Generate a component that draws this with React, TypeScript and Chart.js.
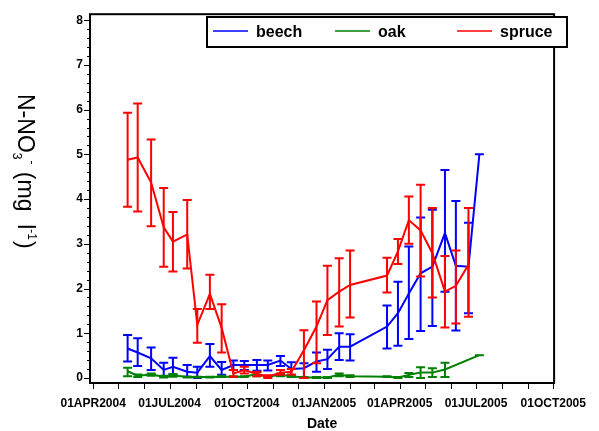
import React, { useEffect, useRef } from 'react';
import { Chart, registerables } from 'chart.js';

Chart.register(...registerables);

// ---------- data ----------
const sampleDates = [
  '2004-05-12', '2004-05-24', '2004-06-09', '2004-06-24', '2004-07-05', '2004-07-22',
  '2004-08-03', '2004-08-18', '2004-09-01', '2004-09-15', '2004-09-28', '2004-10-13',
  '2004-10-26', '2004-11-10', '2004-11-23', '2004-12-08', '2004-12-23', '2005-01-05',
  '2005-01-19', '2005-02-01', '2005-03-17', '2005-03-30', '2005-04-12', '2005-04-26',
  '2005-05-10', '2005-05-25', '2005-06-07', '2005-06-22', '2005-07-05',
];

const beech = [0.66, 0.57, 0.44, 0.18, 0.25, 0.14, 0.12, 0.49, 0.18, 0.29, 0.29, 0.29, 0.29, 0.39, 0.20, 0.22, 0.37, 0.42, 0.70, 0.70, 1.15, 1.45, 1.89, 2.34, 2.49, 3.24, 2.51, 2.49, 5.00];
const beechLow = [0.37, 0.27, 0.18, 0.03, 0.07, 0.03, 0.00, 0.25, 0.07, 0.18, 0.18, 0.16, 0.17, 0.27, 0.03, 0.01, 0.14, 0.20, 0.40, 0.39, 0.66, 0.72, 0.87, 1.05, 1.16, 1.93, 1.06, 1.45, 5.00];
const beechHigh = [0.96, 0.89, 0.68, 0.34, 0.45, 0.29, 0.25, 0.76, 0.36, 0.39, 0.38, 0.40, 0.39, 0.49, 0.35, 0.33, 0.57, 0.63, 1.00, 0.98, 1.62, 2.15, 2.94, 3.59, 3.76, 4.65, 3.96, 3.47, 5.00];

const oak = [0.15, 0.05, 0.08, 0.03, 0.06, 0.02, 0.02, 0.02, 0.03, 0.03, 0.03, 0.09, 0.03, 0.07, 0.04, 0.01, 0.01, 0.01, 0.07, 0.04, 0.03, 0.01, 0.07, 0.12, 0.12, 0.19, null, null, 0.51];
const oakLow = [0.04, 0.02, 0.05, 0.01, 0.03, 0.01, 0.01, 0.01, 0.02, 0.02, 0.02, 0.04, 0.02, 0.04, 0.02, 0.00, 0.00, 0.00, 0.04, 0.02, 0.02, 0.00, 0.02, 0.00, 0.02, 0.02, null, null, 0.51];
const oakHigh = [0.23, 0.08, 0.10, 0.05, 0.09, 0.03, 0.03, 0.03, 0.05, 0.04, 0.04, 0.13, 0.04, 0.10, 0.06, 0.02, 0.02, 0.02, 0.10, 0.06, 0.04, 0.02, 0.11, 0.24, 0.22, 0.34, null, null, 0.51];

const spruce = [4.88, 4.93, 4.37, 3.37, 3.05, 3.21, 1.19, 1.88, 1.12, 0.10, 0.18, 0.09, 0.03, 0.12, 0.14, 0.62, 1.15, 1.74, 1.93, 2.08, 2.29, 2.83, 3.53, 3.30, 2.79, 1.93, 2.06, 2.53, null];
const spruceLow = [3.83, 3.72, 3.39, 2.49, 2.38, 2.45, 0.79, 1.54, 0.57, 0.03, 0.10, 0.04, 0.00, 0.07, 0.08, 0.00, 0.33, 0.96, 1.15, 1.35, 1.91, 2.55, 3.00, 2.27, 1.80, 1.13, 1.22, 1.37, null];
const spruceHigh = [5.93, 6.14, 5.33, 4.25, 3.71, 3.98, 1.54, 2.31, 1.65, 0.18, 0.25, 0.14, 0.06, 0.18, 0.20, 1.07, 1.71, 2.51, 2.68, 2.85, 2.69, 3.11, 4.06, 4.32, 3.80, 2.73, 2.85, 3.80, null];

const seriesNames = ['beech', 'oak', 'spruce'];
const seriesColors = ['#0000FF', '#008000', '#FF0000'];

const xTickDates = ['2004-04-01', '2004-07-01', '2004-10-01', '2005-01-01', '2005-04-01', '2005-07-01', '2005-10-01'];
const xTickLabels = ['01APR2004', '01JUL2004', '01OCT2004', '01JAN2005', '01APR2005', '01JUL2005', '01OCT2005'];
const monthStarts = [
  '2004-04-01', '2004-05-01', '2004-06-01', '2004-07-01', '2004-08-01', '2004-09-01', '2004-10-01',
  '2004-11-01', '2004-12-01', '2005-01-01', '2005-02-01', '2005-03-01', '2005-04-01', '2005-05-01',
  '2005-06-01', '2005-07-01', '2005-08-01', '2005-09-01', '2005-10-01',
];
const yTickValues = [0, 1, 2, 3, 4, 5, 6, 7, 8];

const xTitle = 'Date';

// ---------- helpers ----------
const BASE = Date.UTC(2004, 3, 1);
const dayOf = (s: string) => (Date.parse(s + 'T00:00:00Z') - BASE) / 86400000;

const FONT = '"Liberation Sans", Arial, Helvetica, sans-serif';

const errorRanges: Record<string, [(number | null)[], (number | null)[]]> = {
  beech: [beechLow, beechHigh],
  oak: [oakLow, oakHigh],
  spruce: [spruceLow, spruceHigh],
};

const errorBarPlugin = {
  id: 'errorBars',
  afterDatasetDraw(chart: any, args: any) {
    const ds = chart.data.datasets[args.index];
    const range = errorRanges[ds.label];
    if (!range) return;
    const [lows, highs] = range;
    const xs = chart.scales.x;
    const ys = chart.scales.y;
    const ctx = chart.ctx;
    ctx.save();
    ctx.strokeStyle = ds.borderColor;
    ctx.lineWidth = 2;
    ctx.lineCap = 'butt';
    ds.data.forEach((p: any, i: number) => {
      if (p.y == null || lows[i] == null || highs[i] == null) return;
      const x = xs.getPixelForValue(p.x);
      const yl = ys.getPixelForValue(lows[i]);
      const yh = ys.getPixelForValue(highs[i]);
      ctx.beginPath();
      ctx.moveTo(x, yl);
      ctx.lineTo(x, yh);
      ctx.moveTo(x - 4.5, yl);
      ctx.lineTo(x + 4.5, yl);
      ctx.moveTo(x - 4.5, yh);
      ctx.lineTo(x + 4.5, yh);
      ctx.stroke();
    });
    ctx.restore();
  },
};

const framePlugin = {
  id: 'frameAndTicks',
  afterDraw(chart: any) {
    const { ctx, chartArea } = chart;
    const { left, right, top, bottom } = chartArea;
    const xs = chart.scales.x;
    const ys = chart.scales.y;
    ctx.save();
    ctx.strokeStyle = '#000';
    ctx.lineWidth = 2;
    ctx.strokeRect(left, top, right - left, bottom - top);
    ctx.lineWidth = 1;
    ctx.beginPath();
    monthStarts.forEach((d) => {
      const px = Math.round(xs.getPixelForValue(dayOf(d))) + 0.5;
      ctx.moveTo(px, bottom + 1);
      ctx.lineTo(px, bottom + 6);
    });
    for (let k = 0; k <= 40; k++) {
      const v = k / 5;
      const py = Math.round(ys.getPixelForValue(v)) + 0.5;
      const len = k % 5 === 0 ? 5 : 2;
      ctx.moveTo(left - 1, py);
      ctx.lineTo(left - 1 - len, py);
    }
    ctx.stroke();

    // x title
    ctx.fillStyle = '#000';
    ctx.font = `bold 14px ${FONT}`;
    ctx.textAlign = 'center';
    ctx.textBaseline = 'middle';
    ctx.fillText(xTitle, (left + right) / 2, 424);

    // y title, rotated clockwise, with sub/superscripts
    const parts: { t: string; size: number; shift: number }[] = [
      { t: 'N-NO', size: 23, shift: 0 },
      { t: '3', size: 12, shift: 5 },
      { t: '-', size: 12, shift: -10 },
      { t: ' (mg  l', size: 23, shift: 0 },
      { t: '-1', size: 12, shift: -10 },
      { t: ')', size: 23, shift: 0 },
    ];
    ctx.translate(18, 94);
    ctx.rotate(Math.PI / 2);
    ctx.textAlign = 'left';
    ctx.textBaseline = 'alphabetic';
    let cx = 0;
    parts.forEach((p) => {
      ctx.font = `${p.size}px ${FONT}`;
      ctx.fillText(p.t, cx, p.shift);
      cx += ctx.measureText(p.t).width + (p.size < 20 ? 1 : 0);
    });
    ctx.restore();

    // legend
    ctx.save();
    const lx = 207, ly = 17, lw = 360, lh = 30;
    ctx.fillStyle = '#fff';
    ctx.fillRect(lx, ly, lw, lh);
    ctx.strokeStyle = '#000';
    ctx.lineWidth = 2;
    ctx.strokeRect(lx, ly, lw, lh);
    const itemX = [213, 335, 457];
    ctx.font = `bold 16px ${FONT}`;
    ctx.textAlign = 'left';
    ctx.textBaseline = 'middle';
    seriesNames.forEach((n, i) => {
      ctx.strokeStyle = seriesColors[i];
      ctx.lineWidth = 1.5;
      ctx.beginPath();
      ctx.moveTo(itemX[i], 31);
      ctx.lineTo(itemX[i] + 35, 31);
      ctx.stroke();
      ctx.fillStyle = '#000';
      ctx.fillText(n, itemX[i] + 43, 33);
    });
    ctx.restore();
  },
};

export default function App() {
  const ref = useRef<HTMLCanvasElement | null>(null);

  useEffect(() => {
    if (!ref.current) return;
    const xVals = sampleDates.map(dayOf);
    const values = [beech, oak, spruce];
    const chart = new Chart(ref.current, {
      type: 'line',
      data: {
        datasets: seriesNames.map((name, i) => ({
          label: name,
          data: xVals.map((x, j) => ({ x, y: values[i][j] })),
          borderColor: seriesColors[i],
          backgroundColor: seriesColors[i],
          borderWidth: 2,
          pointRadius: 0,
          pointHoverRadius: 0,
          tension: 0,
          spanGaps: true,
          fill: false,
          order: 3 - i,
        })),
      },
      options: {
        animation: false,
        responsive: true,
        maintainAspectRatio: false,
        events: [],
        layout: { padding: { top: 14, right: 29, left: 0, bottom: 0 } },
        plugins: {
          legend: { display: false },
          tooltip: { enabled: false },
          title: { display: false },
        },
        scales: {
          x: {
            type: 'linear',
            min: -3.8,
            max: 549,
            grid: { display: false, drawTicks: false },
            border: { display: false },
            afterBuildTicks: (scale: any) => {
              scale.ticks = xTickDates.map((d) => ({ value: dayOf(d) }));
            },
            afterFit: (scale: any) => {
              scale.height = 48;
            },
            ticks: {
              autoSkip: false,
              maxRotation: 0,
              minRotation: 0,
              padding: 13,
              color: '#000',
              font: { family: FONT, size: 12, weight: 'bold' },
              callback: (_v: any, idx: number) => xTickLabels[idx],
            },
          },
          y: {
            type: 'linear',
            min: -0.112,
            max: 8.134,
            grid: { display: false, drawTicks: false },
            border: { display: false },
            afterBuildTicks: (scale: any) => {
              scale.ticks = yTickValues.map((v) => ({ value: v }));
            },
            afterFit: (scale: any) => {
              scale.width = 90;
            },
            ticks: {
              padding: 7,
              color: '#000',
              font: { family: FONT, size: 12, weight: 'bold' },
              callback: (v: any) => String(v),
            },
          },
        },
      },
      plugins: [errorBarPlugin, framePlugin],
    } as any);
    return () => chart.destroy();
  }, []);

  return (
    <div style={{ position: 'fixed', left: 0, top: 0, width: 599, height: 431, background: '#fff' }}>
      <canvas ref={ref} />
    </div>
  );
}
